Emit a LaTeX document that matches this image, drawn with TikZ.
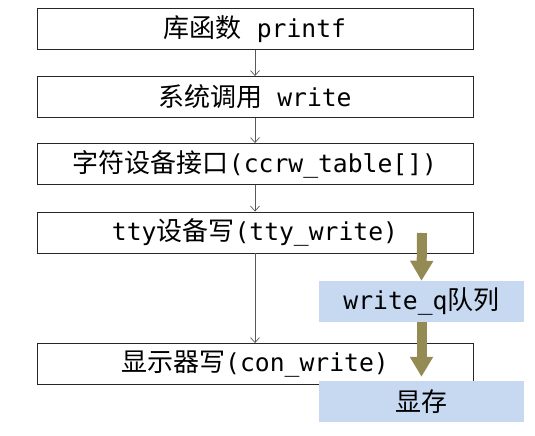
\documentclass[tikz,border=0pt]{standalone}
\usepackage{fontspec}
\setmonofont[Scale=0.95]{DejaVu Sans Mono}
\newfontfamily\cjk{Noto Sans CJK SC}
\usetikzlibrary{arrows.meta}
\definecolor{qblue}{HTML}{C6D9F1}
\definecolor{qolive}{HTML}{948A54}
\newcommand{\cd}[1]{{\ttfamily #1}}

\begin{document}
\begin{tikzpicture}[x=1pt, y=-1pt,
  every node/.style={font=\cjk\fontsize{26}{30}\selectfont, inner sep=0pt},
  callbox/.style={draw=black!85, line width=0.9pt, fill=white, minimum width=436pt, minimum height=41pt},
  bufbox/.style={fill=qblue, minimum width=205pt, minimum height=41pt},
  callarrow/.style={draw=black!65, line width=0.7pt, -{Straight Barb[length=5pt, width=9pt]}},
  flowarrow/.style={draw=qolive, line width=10pt, -{Triangle[length=20pt, width=22pt]}}]
  \useasboundingbox (0,0) rectangle (535,436);

  % Call chain, top to bottom
  \node[callbox] (lib) at (255,29) {库函数\cd{\ printf}};
  \node[callbox] (sys) at (255,97) {系统调用\cd{\ write}};
  \node[callbox] (chr) at (255,164) {字符设备接口\cd{(ccrw\_table[])}};
  \node[callbox] (tty) at (255,232.5) {\cd{tty}设备写\cd{(tty\_write)}};
  \node[callbox] (con) at (255,364) {显示器写\cd{(con\_write)}};

  % Data path on the right
  \node[bufbox] (wq) at (421.5,301.5) {\cd{write\_q}队列};
  \node[bufbox] (vram) at (421.5,401.5) {显存};
  \coordinate (ttyout) at (422,233);

  \draw[callarrow] (lib) -- (sys);
  \draw[callarrow] (sys) -- (chr);
  \draw[callarrow] (chr) -- (tty);
  \draw[callarrow] (tty) -- (con);

  \draw[flowarrow] (ttyout) -- (wq.north);
  \draw[flowarrow] (wq.south) -- ([yshift=4pt]vram.north);
\end{tikzpicture}
\end{document}
